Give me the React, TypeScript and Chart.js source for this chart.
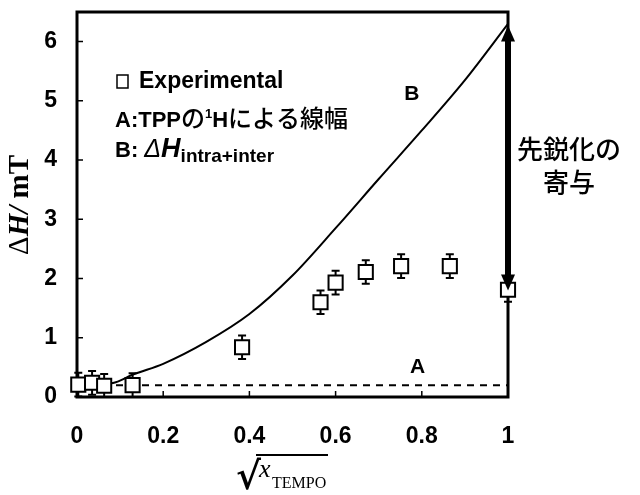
import React, { useEffect, useRef } from "react";
import { Chart, registerables } from "chart.js";

Chart.register(...registerables);

// ---- data ----
const expX = [0.003, 0.035, 0.063, 0.129, 0.383, 0.565, 0.6, 0.67, 0.752, 0.865, 1.0];
const expY = [0.21, 0.24, 0.19, 0.2, 0.84, 1.6, 1.93, 2.11, 2.21, 2.21, 1.81];
const expErr = [0.2, 0.2, 0.2, 0.2, 0.2, 0.2, 0.2, 0.2, 0.2, 0.2, 0.2];

const lineBX = [0, 0.05, 0.09, 0.13, 0.2, 0.3, 0.4, 0.5, 0.6, 0.7, 0.8, 0.9, 1.0];
const lineBY = [0.2, 0.21, 0.25, 0.38, 0.56, 0.93, 1.4, 2.05, 2.85, 3.68, 4.5, 5.35, 6.3];

const lineAX = [0, 1];
const lineAY = [0.2, 0.2];

const arrowX = 1.0;
const arrowFrom = 1.8;
const arrowTo = 6.27;

const xTickLabels = ["0", "0.2", "0.4", "0.6", "0.8", "1"];
const yTickLabels = ["0", "1", "2", "3", "4", "5", "6"];

const labelA = { x: 0.79, y: 0.5, text: "A" };
const labelB = { x: 0.777, y: 5.12, text: "B" };

const SANS = '"Liberation Sans", Arial, "Noto Sans CJK JP", sans-serif';
const SERIF = '"Liberation Serif", "Times New Roman", serif';
const CJK = '"Noto Sans CJK JP", sans-serif';

type Run = { t: string; font: string; dy?: number };

function drawRuns(ctx: CanvasRenderingContext2D, x: number, y: number, runs: Run[]) {
  let cx = x;
  for (const r of runs) {
    ctx.font = r.font;
    ctx.fillText(r.t, cx, y + (r.dy || 0));
    cx += ctx.measureText(r.t).width;
  }
}

const overlay = {
  id: "overlay",
  beforeDatasetsDraw(chart: any) {
    const ctx: CanvasRenderingContext2D = chart.ctx;
    const { left, right, top, bottom } = chart.chartArea;
    const xs = chart.scales.x;
    const ys = chart.scales.y;
    ctx.save();
    ctx.strokeStyle = "#000";
    ctx.lineWidth = 3;
    ctx.strokeRect(left, top, right - left, bottom - top);
    ctx.lineWidth = 1.5;
    ctx.beginPath();
    for (const t of ys.ticks) {
      const py = ys.getPixelForValue(t.value);
      ctx.moveTo(left, py);
      ctx.lineTo(left + 6, py);
    }
    for (const t of xs.ticks) {
      const px = xs.getPixelForValue(t.value);
      ctx.moveTo(px, bottom);
      ctx.lineTo(px, bottom - 6);
    }
    ctx.stroke();
    ctx.lineWidth = 2;
    ctx.beginPath();
    for (let i = 0; i < expX.length; i++) {
      const px = xs.getPixelForValue(expX[i]);
      const pt = ys.getPixelForValue(expY[i] + expErr[i]);
      const pb = ys.getPixelForValue(Math.max(0, expY[i] - expErr[i]));
      ctx.moveTo(px, pt);
      ctx.lineTo(px, pb);
      ctx.moveTo(px - 4, pt);
      ctx.lineTo(px + 4, pt);
      ctx.moveTo(px - 4, pb);
      ctx.lineTo(px + 4, pb);
    }
    ctx.stroke();
    ctx.restore();
  },
  afterDatasetsDraw(chart: any) {
    const ctx: CanvasRenderingContext2D = chart.ctx;
    const xs = chart.scales.x;
    const ys = chart.scales.y;
    ctx.save();
    const ax = xs.getPixelForValue(arrowX);
    const y1 = ys.getPixelForValue(arrowFrom);
    const y2 = ys.getPixelForValue(arrowTo);
    const headL = 16;
    const headW = 7;
    ctx.fillStyle = "#000";
    ctx.fillRect(ax - 3, y2 + headL - 1, 6, y1 - y2 - 2 * headL + 2);
    ctx.beginPath();
    ctx.moveTo(ax, y2);
    ctx.lineTo(ax + headW, y2 + headL);
    ctx.lineTo(ax - headW, y2 + headL);
    ctx.closePath();
    ctx.fill();
    ctx.beginPath();
    ctx.moveTo(ax, y1);
    ctx.lineTo(ax + headW, y1 - headL);
    ctx.lineTo(ax - headW, y1 - headL);
    ctx.closePath();
    ctx.fill();
    ctx.restore();
  },
  afterDraw(chart: any) {
    const ctx: CanvasRenderingContext2D = chart.ctx;
    const xs = chart.scales.x;
    const ys = chart.scales.y;
    ctx.save();
    ctx.fillStyle = "#000";
    ctx.strokeStyle = "#000";

    ctx.textAlign = "center";
    ctx.textBaseline = "middle";
    ctx.font = `bold 21px ${SANS}`;
    ctx.fillText(labelA.text, xs.getPixelForValue(labelA.x), ys.getPixelForValue(labelA.y));
    ctx.fillText(labelB.text, xs.getPixelForValue(labelB.x), ys.getPixelForValue(labelB.y));

    ctx.textAlign = "left";
    ctx.textBaseline = "alphabetic";
    ctx.lineWidth = 1.5;
    ctx.strokeRect(117, 75, 11, 13);
    drawRuns(ctx, 139, 88, [{ t: "Experimental", font: `bold 23px ${SANS}` }]);
    drawRuns(ctx, 115, 127, [
      { t: "A:TPP", font: `bold 22px ${SANS}` },
      { t: "の", font: `500 24px ${CJK}` },
      { t: "1", font: `bold 13px ${SANS}`, dy: -9 },
      { t: "H", font: `bold 22px ${SANS}` },
      { t: "による線幅", font: `500 24px ${CJK}` },
    ]);
    drawRuns(ctx, 115, 157, [
      { t: "B: ", font: `bold 22px ${SANS}` },
      { t: "Δ", font: `italic 25px ${SANS}` },
      { t: "H", font: `italic bold 27px ${SANS}` },
      { t: "intra+inter", font: `bold 19px ${SANS}`, dy: 5 },
    ]);

    ctx.textAlign = "center";
    ctx.textBaseline = "middle";
    ctx.font = `500 26px ${CJK}`;
    ctx.fillText("先鋭化の", 569, 149);
    ctx.fillText("寄与", 569, 182);

    ctx.save();
    ctx.translate(28, 205);
    ctx.rotate(-Math.PI / 2);
    ctx.textBaseline = "alphabetic";
    ctx.textAlign = "left";
    const yRuns: Run[] = [
      { t: "Δ", font: `29px ${SERIF}` },
      { t: "H", font: `italic bold 29px ${SERIF}` },
      { t: "/ ", font: `italic bold 29px ${SERIF}` },
      { t: "mT", font: `bold 29px ${SERIF}` },
    ];
    let w = 0;
    for (const r of yRuns) {
      ctx.font = r.font;
      w += ctx.measureText(r.t).width;
    }
    drawRuns(ctx, -w / 2, 0, yRuns);
    ctx.restore();

    ctx.textAlign = "left";
    ctx.textBaseline = "alphabetic";
    ctx.font = `bold 38px "DejaVu Serif", serif`;
    ctx.fillText("√", 236, 489);
    ctx.lineWidth = 2;
    ctx.beginPath();
    ctx.moveTo(256, 455);
    ctx.lineTo(328, 455);
    ctx.stroke();
    drawRuns(ctx, 259, 477, [{ t: "x", font: `italic 26px ${SERIF}` }]);
    drawRuns(ctx, 272, 488, [{ t: "TEMPO", font: `16px ${SERIF}` }]);
    ctx.restore();
  },
};

export default function App() {
  const ref = useRef<HTMLCanvasElement>(null);
  useEffect(() => {
    document.body.style.margin = "0";
    const canvas = ref.current!;
    const chart = new Chart(canvas, {
      type: "scatter",
      data: {
        datasets: [
          {
            label: "Experimental",
            data: expX.map((x, i) => ({ x, y: expY[i] })),
            pointStyle: "rect",
            pointRadius: 10,
            pointHoverRadius: 10,
            pointBackgroundColor: "#fff",
            pointBorderColor: "#000",
            pointBorderWidth: 2,
            showLine: false,
            clip: false,
          } as any,
          {
            label: "B",
            data: lineBX.map((x, i) => ({ x, y: lineBY[i] })),
            showLine: true,
            borderColor: "#000",
            borderWidth: 2,
            pointRadius: 0,
            cubicInterpolationMode: "monotone",
            fill: false,
          } as any,
          {
            label: "A",
            data: lineAX.map((x, i) => ({ x, y: lineAY[i] })),
            showLine: true,
            borderColor: "#000",
            borderWidth: 2,
            borderDash: [7, 6],
            pointRadius: 0,
            fill: false,
          } as any,
        ],
      },
      options: {
        animation: false,
        responsive: false,
        events: [],
        layout: { padding: { top: 9, right: 132, bottom: 0, left: 0 } },
        plugins: { legend: { display: false }, tooltip: { enabled: false } },
        scales: {
          x: {
            type: "linear",
            min: 0,
            max: 1,
            grid: { display: false, drawTicks: false },
            border: { display: false },
            ticks: {
              stepSize: 0.2,
              padding: 26,
              color: "#000",
              font: { family: SANS, size: 23, weight: "bold" },
              callback: (_v: any, i: number) => xTickLabels[i] ?? "",
            },
            afterFit: (s: any) => {
              s.height = 98;
              s.paddingLeft = 0;
              s.paddingRight = 0;
            },
          },
          y: {
            type: "linear",
            min: 0,
            max: 6.5,
            grid: { display: false, drawTicks: false },
            border: { display: false },
            ticks: {
              stepSize: 1,
              includeBounds: false,
              padding: 20,
              color: "#000",
              font: { family: SANS, size: 23, weight: "bold" },
              callback: (_v: any, i: number) => yTickLabels[i] ?? "",
            },
            afterFit: (s: any) => {
              s.width = 77;
              s.paddingTop = 0;
              s.paddingBottom = 0;
            },
          },
        },
      } as any,
      plugins: [overlay],
    });
    return () => chart.destroy();
  }, []);
  return (
    <div style={{ width: 640, height: 495, background: "#fff" }}>
      <canvas ref={ref} width={640} height={495} style={{ display: "block" }} />
    </div>
  );
}
